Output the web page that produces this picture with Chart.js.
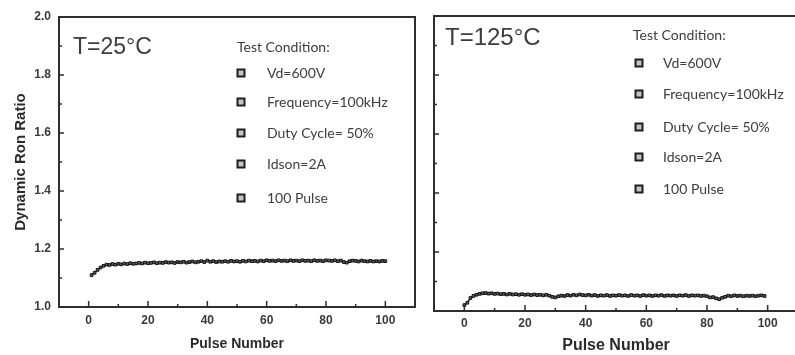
<!DOCTYPE html>
<html lang="en">
<head>
<meta charset="UTF-8">
<title>Dynamic Ron Ratio</title>
<script src="https://cdn.jsdelivr.net/npm/chart.js"></script>
<style>
    html, body { margin: 0; padding: 0; background: #fff; overflow: hidden; }
    body { width: 795px; height: 355px; position: relative; }
    .panel { position: absolute; top: 0; }
    #left-panel { left: 0; }
    #right-panel { left: 420px; }
</style>
</head>
<body>
<div class="panel" id="left-panel"><canvas id="chart-25" width="425" height="355"></canvas></div>
<div class="panel" id="right-panel"><canvas id="chart-125" width="385" height="355"></canvas></div>
<script>
    // T = 25C panel
    const pulse25 = [
        1, 2, 3, 4, 5, 6, 7, 8, 9, 10,
        11, 12, 13, 14, 15, 16, 17, 18, 19, 20,
        21, 22, 23, 24, 25, 26, 27, 28, 29, 30,
        31, 32, 33, 34, 35, 36, 37, 38, 39, 40,
        41, 42, 43, 44, 45, 46, 47, 48, 49, 50,
        51, 52, 53, 54, 55, 56, 57, 58, 59, 60,
        61, 62, 63, 64, 65, 66, 67, 68, 69, 70,
        71, 72, 73, 74, 75, 76, 77, 78, 79, 80,
        81, 82, 83, 84, 85, 86, 87, 88, 89, 90,
        91, 92, 93, 94, 95, 96, 97, 98, 99, 100
    ];
    const ratio25 = [
        1.110, 1.118, 1.128, 1.136, 1.142, 1.146, 1.145, 1.148, 1.146, 1.149,
        1.147, 1.150, 1.148, 1.151, 1.149, 1.150, 1.152, 1.150, 1.153, 1.151,
        1.152, 1.154, 1.151, 1.153, 1.152, 1.155, 1.153, 1.154, 1.152, 1.155,
        1.154, 1.156, 1.153, 1.155, 1.157, 1.154, 1.156, 1.158, 1.155, 1.160,
        1.156, 1.158, 1.155, 1.157, 1.156, 1.158, 1.156, 1.159, 1.157, 1.158,
        1.156, 1.159, 1.157, 1.160, 1.158, 1.159, 1.157, 1.160, 1.158, 1.161,
        1.159, 1.160, 1.158, 1.161, 1.159, 1.160, 1.158, 1.161, 1.159, 1.160,
        1.158, 1.161, 1.159, 1.160, 1.158, 1.161, 1.159, 1.160, 1.158, 1.161,
        1.160, 1.159, 1.161, 1.158, 1.160, 1.155, 1.153, 1.158, 1.160, 1.159,
        1.157, 1.160, 1.158, 1.157, 1.159, 1.157, 1.158, 1.157, 1.159, 1.158
    ];

    // T = 125C panel
    const pulse125 = [
        0, 1, 2, 3, 4, 5, 6, 7, 8, 9,
        10, 11, 12, 13, 14, 15, 16, 17, 18, 19,
        20, 21, 22, 23, 24, 25, 26, 27, 28, 29,
        30, 31, 32, 33, 34, 35, 36, 37, 38, 39,
        40, 41, 42, 43, 44, 45, 46, 47, 48, 49,
        50, 51, 52, 53, 54, 55, 56, 57, 58, 59,
        60, 61, 62, 63, 64, 65, 66, 67, 68, 69,
        70, 71, 72, 73, 74, 75, 76, 77, 78, 79,
        80, 81, 82, 83, 84, 85, 86, 87, 88, 89,
        90, 91, 92, 93, 94, 95, 96, 97, 98, 99
    ];
    const ratio125 = [
        1.020, 1.028, 1.044, 1.051, 1.055, 1.058, 1.060, 1.061, 1.059, 1.060,
        1.058, 1.059, 1.057, 1.058, 1.056, 1.058, 1.056, 1.057, 1.055, 1.057,
        1.055, 1.056, 1.054, 1.056, 1.054, 1.055, 1.053, 1.055, 1.052, 1.048,
        1.046, 1.050, 1.052, 1.051, 1.054, 1.052, 1.055, 1.053, 1.056, 1.054,
        1.053, 1.055, 1.052, 1.054, 1.051, 1.053, 1.052, 1.054, 1.051, 1.053,
        1.052, 1.054, 1.052, 1.053, 1.051, 1.054, 1.052, 1.053, 1.051, 1.054,
        1.052, 1.053, 1.051, 1.053, 1.052, 1.054, 1.051, 1.053, 1.052, 1.053,
        1.051, 1.053, 1.052, 1.054, 1.051, 1.053, 1.052, 1.053, 1.051, 1.052,
        1.050, 1.046, 1.047, 1.043, 1.040, 1.045, 1.048, 1.052, 1.050, 1.053,
        1.051, 1.052, 1.050, 1.052, 1.051, 1.052, 1.050, 1.052, 1.053, 1.051
    ];

    const xTickLabels = [0, 20, 40, 60, 80, 100];
    const xMinorTicks = [10, 30, 50, 70, 90];
    const yTickLabels = [1.0, 1.2, 1.4, 1.6, 1.8, 2.0];
    const yMinorTicks = [1.1, 1.3, 1.5, 1.7, 1.9];

    const conditionTitle = 'Test Condition:';
    const conditionLabels = ['Vd=600V', 'Frequency=100kHz', 'Duty Cycle= 50%', 'Idson=2A', '100 Pulse'];

    const textColor = '#3d3d3d';
    const axisColor = '#2e2e2e';

    // frame, inward ticks and the text block inside the plot
    const panelDecor = {
        id: 'panelDecor',
        afterDatasetsDraw(chart, args, opts) {
            const ctx = chart.ctx;
            const a = chart.chartArea;
            const xs = chart.scales.x;
            const ys = chart.scales.y;
            ctx.save();

            ctx.strokeStyle = axisColor;
            ctx.lineWidth = 2;
            ctx.strokeRect(a.left, a.top, a.right - a.left, a.bottom - a.top);

            ctx.lineWidth = 1.5;
            ctx.beginPath();
            xTickLabels.forEach(v => {
                const px = xs.getPixelForValue(v);
                ctx.moveTo(px, a.bottom); ctx.lineTo(px, a.bottom - 6);
            });
            xMinorTicks.forEach(v => {
                const px = xs.getPixelForValue(v);
                ctx.moveTo(px, a.bottom); ctx.lineTo(px, a.bottom - 3);
            });
            yTickLabels.forEach(v => {
                const py = ys.getPixelForValue(v);
                ctx.moveTo(a.left, py); ctx.lineTo(a.left + 5, py);
            });
            yMinorTicks.forEach(v => {
                const py = ys.getPixelForValue(v);
                ctx.moveTo(a.left, py); ctx.lineTo(a.left + 3, py);
            });
            ctx.stroke();

            ctx.fillStyle = textColor;
            ctx.textAlign = 'left';
            ctx.textBaseline = 'alphabetic';
            ctx.font = opts.tempFont;
            ctx.fillText(opts.temp, opts.tempX, opts.tempY);

            ctx.font = '14px Lato';
            ctx.textBaseline = 'middle';
            ctx.fillText(conditionTitle, opts.titleX, opts.titleY);
            conditionLabels.forEach((t, i) => {
                const cy = opts.rows[i];
                ctx.fillStyle = '#c4c4c4';
                ctx.fillRect(opts.boxX - 3.5, cy - 3.5, 7, 7);
                ctx.strokeStyle = '#1e1e1e';
                ctx.lineWidth = 2;
                ctx.strokeRect(opts.boxX - 3.5, cy - 3.5, 7, 7);
                ctx.fillStyle = textColor;
                ctx.fillText(t, opts.textX, cy);
            });
            ctx.restore();
        }
    };

    function buildChart(id, pulses, ratios, cfg) {
        const points = pulses.map((p, i) => ({ x: p, y: ratios[i] }));
        return new Chart(document.getElementById(id), {
            type: 'line',
            data: {
                datasets: [{
                    data: points,
                    borderColor: '#1c1c1c',
                    borderWidth: 1.4,
                    pointStyle: 'rect',
                    pointRadius: 1.9,
                    pointBorderWidth: 1,
                    pointBackgroundColor: '#666',
                    pointBorderColor: '#111',
                    tension: 0
                }]
            },
            plugins: [panelDecor],
            options: {
                responsive: false,
                animation: false,
                devicePixelRatio: 1,
                layout: { padding: cfg.padding },
                plugins: {
                    legend: { display: false },
                    tooltip: { enabled: false },
                    panelDecor: cfg.decor
                },
                scales: {
                    x: {
                        type: 'linear',
                        min: -10,
                        max: 110,
                        grid: { display: false, drawTicks: false },
                        border: { display: false },
                        afterBuildTicks: s => { s.ticks = xTickLabels.map(v => ({ value: v })); },
                        afterFit: s => { s.height = cfg.xHeight; },
                        ticks: {
                            font: { family: 'Liberation Sans', size: 12, weight: 'bold' },
                            color: '#3a3a3a',
                            padding: cfg.xTickPad,
                            maxRotation: 0
                        },
                        title: {
                            display: true,
                            text: 'Pulse Number',
                            font: { family: 'Liberation Sans', size: cfg.xTitleSize, weight: 'bold' },
                            color: '#2a2a2a',
                            padding: { top: 0, bottom: cfg.xTitlePad }
                        }
                    },
                    y: {
                        display: cfg.showY,
                        min: 1.0,
                        max: 2.0,
                        grid: { display: false, drawTicks: false },
                        border: { display: false },
                        afterBuildTicks: s => { s.ticks = yTickLabels.map(v => ({ value: v })); },
                        afterFit: s => { s.width = cfg.yWidth; },
                        ticks: {
                            font: { family: 'Liberation Sans', size: 12, weight: 'bold' },
                            color: '#3a3a3a',
                            padding: 8,
                            callback: v => v.toFixed(1)
                        },
                        title: {
                            display: true,
                            text: 'Dynamic Ron Ratio',
                            font: { family: 'Liberation Sans', size: 15, weight: 'bold' },
                            color: '#2a2a2a',
                            padding: { top: 12, bottom: 0 }
                        }
                    }
                }
            }
        });
    }

    buildChart('chart-25', pulse25, ratio25, {
        padding: { top: 17, right: 10, left: 0, bottom: 0 },
        showY: true,
        yWidth: 59,
        xHeight: 48,
        xTickPad: 6,
        xTitleSize: 14,
        xTitlePad: 2,
        decor: {
            temp: 'T=25\u00B0C', tempFont: '23px "Liberation Sans"', tempX: 73, tempY: 54,
            titleX: 237, titleY: 47,
            boxX: 241, textX: 267,
            rows: [73, 102, 133, 164, 198]
        }
    });

    // positions below are relative to the right canvas (page x - 420)
    buildChart('chart-125', pulse125, ratio125, {
        padding: { top: 16, right: 7, left: 14, bottom: 0 },
        showY: false,
        yWidth: 0,
        xHeight: 44,
        xTickPad: 5,
        xTitleSize: 16,
        xTitlePad: 0,
        decor: {
            temp: 'T=125\u00B0C', tempFont: '24px "Liberation Sans"', tempX: 25, tempY: 45,
            titleX: 213, titleY: 35,
            boxX: 219, textX: 243,
            rows: [63, 94, 127, 157, 189]
        }
    });
</script>
</body>
</html>
